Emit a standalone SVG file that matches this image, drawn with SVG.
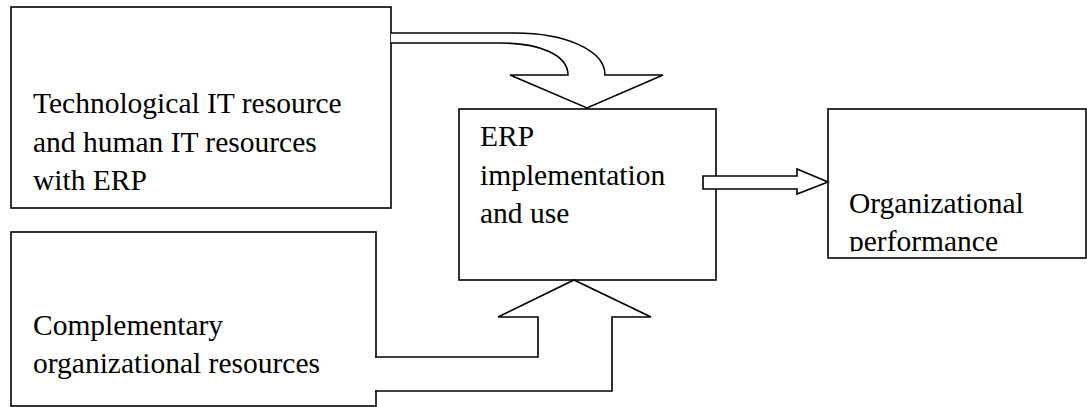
<svg xmlns="http://www.w3.org/2000/svg" width="1087" height="407" viewBox="0 0 1087 407">
  <style>
    .box { fill: #fff; stroke: #000; stroke-width: 1.6; }
    .arrow { fill: #fff; stroke: #000; stroke-width: 1.6; stroke-linejoin: miter; }
    .label { font-family: "Liberation Serif", "Times New Roman", serif; font-size: 29.5px; fill: #000; }
  </style>
  <defs>
    <!-- text frame inside the performance box ends above the box border -->
    <clipPath id="clip-perf">
      <rect x="828" y="109" width="259" height="142.5"/>
    </clipPath>
  </defs>

  <g id="node-tech">
    <rect class="box" x="11" y="7" width="380" height="201"/>
    <text class="label" x="33" y="113">Technological IT resource</text>
    <text class="label" x="33" y="152">and human IT resources</text>
    <text class="label" x="33" y="190">with ERP</text>
  </g>

  <g id="node-comp">
    <rect class="box" x="11" y="232" width="365" height="174"/>
    <text class="label" x="33" y="335">Complementary</text>
    <text class="label" x="33" y="373">organizational resources</text>
  </g>

  <g id="node-erp">
    <rect class="box" x="459" y="109" width="257" height="171"/>
    <text class="label" x="480" y="146">ERP</text>
    <text class="label" x="480" y="185">implementation</text>
    <text class="label" x="480" y="223">and use</text>
  </g>

  <g id="node-perf">
    <rect class="box" x="828" y="109" width="258" height="149"/>
    <g clip-path="url(#clip-perf)">
      <text class="label" x="849" y="213">Organizational</text>
      <text class="label" x="849" y="251">performance</text>
    </g>
  </g>

  <g id="connectors">
    <!-- curved block arrow: technology resources into ERP box -->
    <path class="arrow" d="M391,33 H515 C565,33 605,50 605,75 H663 L587,108 L510,75 H568 C568,55 540,43 500,43 H391"/>
    <!-- block arrow: complementary resources up into ERP box -->
    <path class="arrow" d="M375,357 H538 V317 H498 L574,280 L651,317 H612 V391 H375"/>
    <!-- block arrow: ERP box to performance -->
    <path class="arrow" d="M703,176 H797 V169 L828,182 L797,194 V189 H703 Z"/>
  </g>
</svg>
